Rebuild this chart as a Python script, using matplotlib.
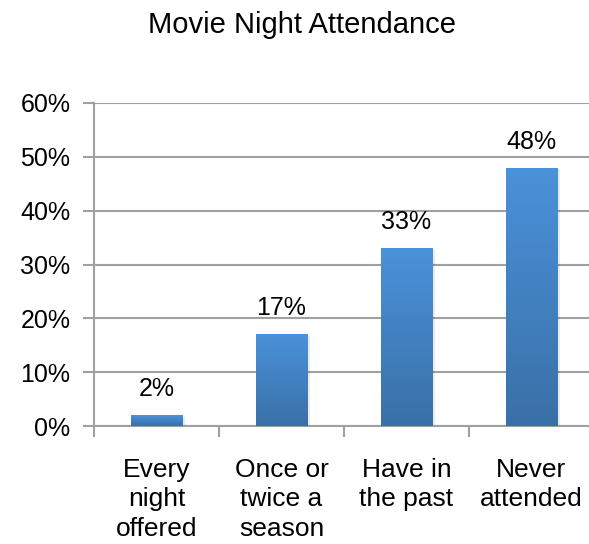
import numpy as np
import matplotlib
matplotlib.use("Agg")
import matplotlib.pyplot as plt
from matplotlib.colors import LinearSegmentedColormap

categories = ["Every\nnight\noffered", "Once or\ntwice a\nseason", "Have in\nthe past", "Never\nattended"]
values = [2, 17, 33, 48]
yticks = [0, 10, 20, 30, 40, 50, 60]

plt.rcParams["font.family"] = ["Liberation Sans", "DejaVu Sans"]

fig = plt.figure(figsize=(5.89, 5.44), dpi=100)
# axes runs a bit past the right edge, like the original
ax = fig.add_axes([94/589, 1 - 426/544, 500/589, 323/544])

x = np.arange(len(values))
bars = ax.bar(x, values, width=0.41, color="none", zorder=3)

# vertical gradient inside each bar
cmap = LinearSegmentedColormap.from_list("blu", ["#3A70A7", "#4A92DA"])
grad = np.linspace(0, 1, 256).reshape(-1, 1)
for b in bars:
    x0, y0 = b.get_x(), b.get_y()
    w, h = b.get_width(), b.get_height()
    # faint shadow
    ax.bar(x0 + w/2 + 0.02, h, width=w, bottom=y0 - 0.3, color="#000000", alpha=0.08, zorder=2)
    im = ax.imshow(grad, cmap=cmap, origin="lower", aspect="auto",
                   extent=[x0, x0 + w, y0, y0 + h], zorder=3)
    im.set_clip_path(b)
    ax.text(x0 + w/2, h + 2.6, f"{h:.0f}%", ha="center", va="bottom", fontsize=18)

ax.set_xlim(-0.5, len(values) - 0.5)
ax.set_ylim(0, 60)
ax.set_yticks(yticks)
ax.set_yticklabels([f"{t}%" for t in yticks], fontsize=18)
ax.set_xticks(x)
ax.set_xticklabels(categories, fontsize=19, linespacing=1.28)
ax.set_xticks(np.arange(len(values) + 1) - 0.5, minor=True)
ax.tick_params(axis="x", which="major", length=0, pad=23)
ax.tick_params(axis="x", which="minor", length=8, width=1.5, color="#A0A0A0", direction="out")
ax.tick_params(axis="y", length=8, width=1.5, color="#A0A0A0", pad=9)

ax.grid(axis="y", color="#A0A0A0", linewidth=1.5, zorder=0)
ax.set_axisbelow(True)
for s in ["top", "right"]:
    ax.spines[s].set_visible(False)
for s in ["left", "bottom"]:
    ax.spines[s].set_color("#A0A0A0")
    ax.spines[s].set_linewidth(1.5)

fig.text(302/589, 1 - 33/544, "Movie Night Attendance", ha="center", va="baseline", fontsize=21)

fig.savefig("out.png", dpi=100)
